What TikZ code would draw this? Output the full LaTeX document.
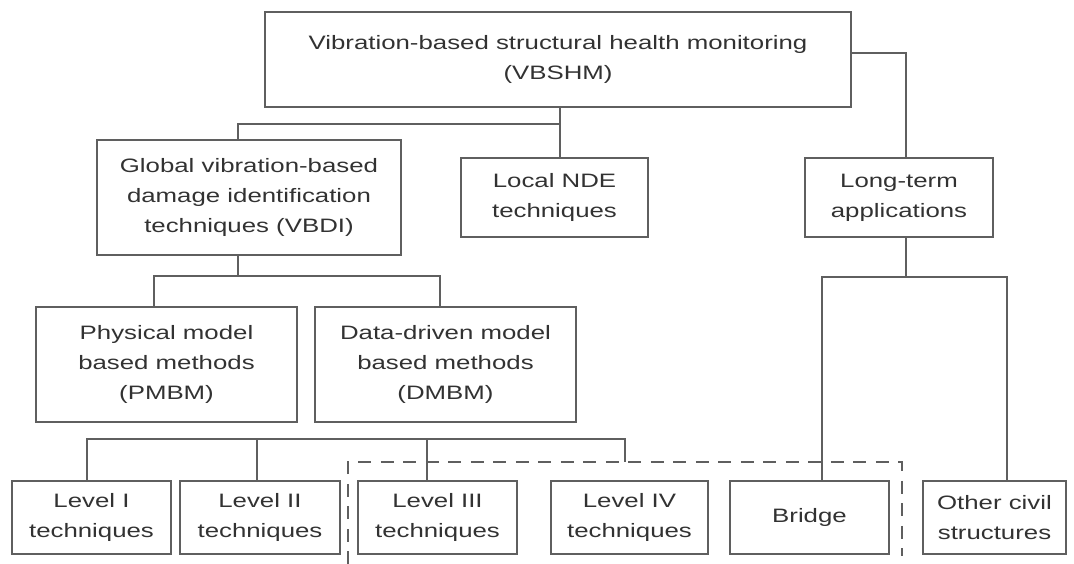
\documentclass[tikz,border=0pt]{standalone}
\usepackage{fontspec}
\setmainfont[FakeStretch=1.33]{Liberation Sans}
\definecolor{linegray}{RGB}{95,95,95}
\definecolor{textgray}{RGB}{50,50,50}
\tikzset{
  blk/.style={draw=linegray, line width=1.1pt, align=center, inner sep=0pt,
    text=textgray, font=\fontsize{13.8}{21.3}\selectfont},
  lvl/.style={blk, minimum height=1.825cm},
  wire/.style={draw=linegray, line width=1pt}
}
\begin{document}
\begin{tikzpicture}[x=0.025cm,y=-0.025cm]
 \useasboundingbox (0,0) rectangle (1074,564);
 \node[blk,minimum width=14.65cm,minimum height=2.375cm] (vbshm) at (558,59.5) {Vibration-based structural health monitoring\\(VBSHM)};
 \node[blk,minimum width=7.6cm,minimum height=2.875cm] (vbdi) at (249,197.5) {Global vibration-based\\damage identification\\techniques (VBDI)};
 \node[blk,minimum width=4.675cm,minimum height=1.975cm] (nde) at (554.5,197.5) {Local NDE\\techniques};
 \node[blk,minimum width=4.7cm,minimum height=1.975cm] (longterm) at (899,197.5) {Long-term\\applications};
 \node[blk,minimum width=6.525cm,minimum height=2.875cm] (pmbm) at (166.5,364.5) {Physical model\\based methods\\(PMBM)};
 \node[blk,minimum width=6.525cm,minimum height=2.875cm] (dmbm) at (445.5,364.5) {Data-driven model\\based methods\\(DMBM)};
 \node[lvl,minimum width=3.975cm] (lev1) at (91.5,517.5) {Level I\\techniques};
 \node[lvl,minimum width=4cm] (lev2) at (260,517.5) {Level II\\techniques};
 \node[lvl,minimum width=3.975cm] (lev3) at (437.5,517.5) {Level III\\techniques};
 \node[lvl,minimum width=3.925cm] (lev4) at (629.5,517.5) {Level IV\\techniques};
 \node[lvl,minimum width=3.975cm] (bridge) at (809.5,517.5) {Bridge};
 \node[lvl,minimum width=3.575cm] (other) at (994.5,517.5) {Other civil\\structures};

 \coordinate (j1) at (560,124);
 \coordinate (j1l) at (238,124);
 \coordinate (j2) at (906,53);
 \coordinate (j3) at (238,276);
 \coordinate (j3l) at (154,276);
 \coordinate (j3r) at (440,276);
 \coordinate (j4) at (906,277);
 \coordinate (j4l) at (822,277);
 \coordinate (j4r) at (1007,277);
 \coordinate (k1) at (87,439);
 \coordinate (k2) at (257,439);
 \coordinate (k3) at (427,439);
 \coordinate (k4) at (625,439);
 \coordinate (k4e) at (625,462);

 \draw[wire] (vbshm.south -| j1) -- (nde.north -| j1);
 \draw[wire] (j1) -- (j1l) -- (vbdi.north -| j1l);
 \draw[wire] (vbshm.east |- j2) -| (longterm.north -| j2);
 \draw[wire] (vbdi.south -| j3) -- (j3);
 \draw[wire] (pmbm.north -| j3l) -- (j3l) -- (j3r) -- (dmbm.north -| j3r);
 \draw[wire] (longterm.south -| j4) -- (j4);
 \draw[wire] (bridge.north -| j4l) -- (j4l) -- (j4r) -- (other.north -| j4r);
 \draw[wire] (lev1.north -| k1) -- (k1) -- (k4) -- (k4e);
 \draw[wire] (lev2.north -| k2) -- (k2);
 \draw[wire] (lev3.north -| k3) -- (k3);

 \draw[wire,dash pattern=on 9pt off 7pt] (348,564) |- (902,462) -- (902,556);
\end{tikzpicture}
\end{document}
